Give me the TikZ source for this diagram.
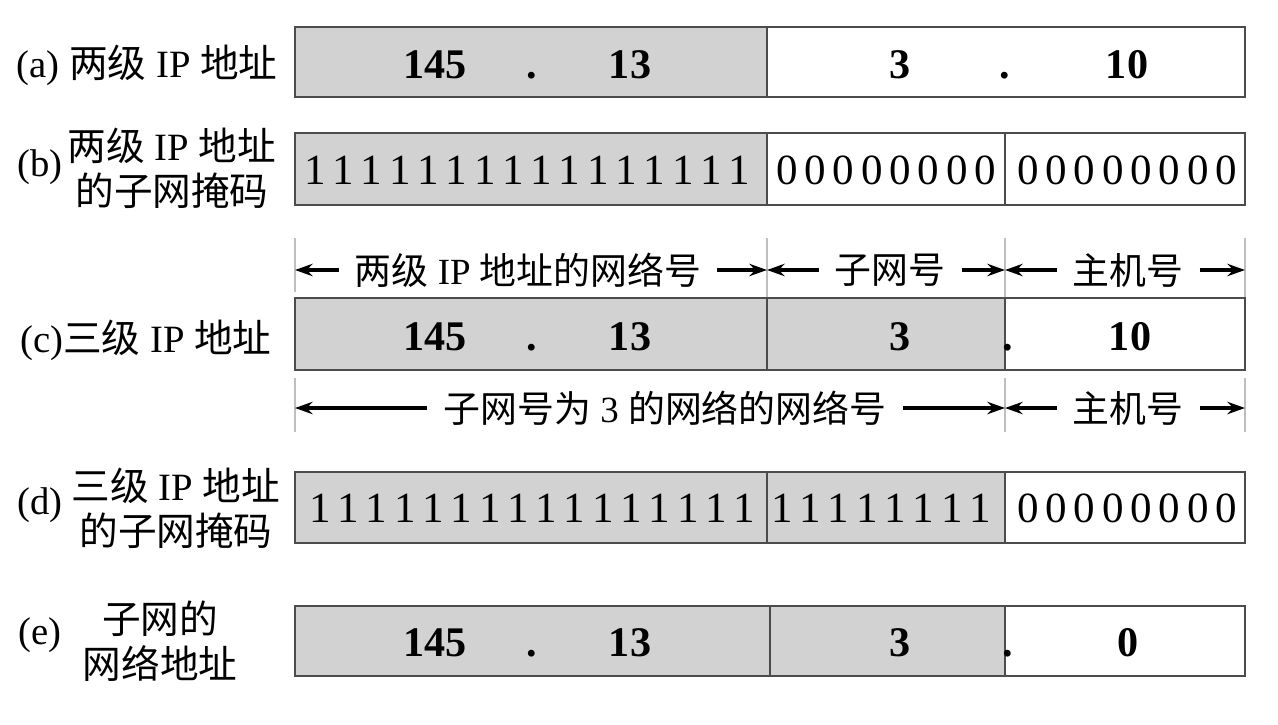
\documentclass[tikz,border=0pt]{standalone}
\usepackage{fontspec}
\setmainfont{Liberation Serif}
\newfontfamily\cjk{Noto Sans CJK SC}
\usetikzlibrary{arrows.meta}
\newcommand{\zh}[1]{{\cjk #1}}

\begin{document}
\begin{tikzpicture}[x=0.02cm, y=-0.02cm,
    field/.style={draw=black!70, line width=0.7pt},
    net/.style={field, fill=gray!35},
    num/.style={font=\fontsize{24}{28}\selectfont\bfseries, anchor=base, inner sep=0pt},
    bit/.style={font=\fontsize{24.5}{28}\selectfont, anchor=base, inner sep=0pt},
    lab/.style={font=\fontsize{22}{25.5}\selectfont, align=center, inner sep=0pt},
    dim/.style={-{Stealth[length=10pt,width=7pt]}, line width=2.2pt},
    dimtext/.style={font=\fontsize{21}{25}\selectfont, inner xsep=9pt},
    guide/.style={draw=black!25, line width=0.6pt}]
\useasboundingbox (0,0) rectangle (1278,724);

% (a) two-level address
\node[lab, anchor=east] (labA) at (278,65) {(a) \zh{两级} IP \zh{地址}};
\draw[net] (295,27) rectangle (767,97);
\draw[field] (767,27) rectangle (1245,97);
\node[num] (a1) at (435,78) {145};
\node[num] (a2) at (532,78) {.};
\node[num] (a3) at (630,78) {13};
\node[num] (a4) at (900,78) {3};
\node[num] (a5) at (1005,78) {.};
\node[num] (a6) at (1127,78) {10};

% (b) its mask
\node[lab] (tagB) at (40,167) {(b)};
\node[lab] (labB) at (172,168) {\zh{两级} IP \zh{地址}\\\zh{的子网掩码}};
\draw[net] (295,133) rectangle (767,205);
\draw[field] (767,133) rectangle (1005,205);
\draw[field] (1005,133) rectangle (1245,205);
\foreach \i in {0,...,15}
  \node[bit] (b1-\i) at ({315+28.3*\i},184) {1};
\foreach \i in {0,...,7} {
  \node[bit] (b2-\i) at ({787+28.3*\i},184) {0};
  \node[bit] (b3-\i) at ({1028+28.3*\i},184) {0};
}

% guide lines
\draw[guide] (295,238) -- (295,292);
\draw[guide] (767,238) -- (767,298);
\draw[guide] (1005,238) -- (1005,298);
\draw[guide] (1245,238) -- (1245,298);
\draw[guide] (295,378) -- (295,432);
\draw[guide] (1005,378) -- (1005,432);
\draw[guide] (1245,378) -- (1245,432);

% upper dimension row
\coordinate (g0a) at (295,270);
\coordinate (g1a) at (767,270);
\coordinate (g2a) at (1005,270);
\coordinate (g3a) at (1245,270);
\node[dimtext] (netTwo) at (528,270) {\zh{两级} IP \zh{地址的网络号}};
\node[dimtext] (subNo) at (890,270) {\zh{子网号}};
\node[dimtext] (hostA) at (1128,270) {\zh{主机号}};
\draw[dim] (netTwo.west) -- (g0a);
\draw[dim] (netTwo.east) -- (g1a);
\draw[dim] (subNo.west) -- (g1a);
\draw[dim] (subNo.east) -- (g2a);
\draw[dim] (hostA.west) -- (g2a);
\draw[dim] (hostA.east) -- (g3a);

% (c) three-level address
\node[lab, anchor=east] (labC) at (272,340) {(c)\zh{三级} IP \zh{地址}};
\draw[net] (295,298) rectangle (767,370);
\draw[net] (767,298) rectangle (1005,370);
\draw[field] (1005,298) rectangle (1245,370);
\node[num] (c1) at (435,350) {145};
\node[num] (c2) at (532,350) {.};
\node[num] (c3) at (630,350) {13};
\node[num] (c4) at (900,350) {3};
\node[num] (c5) at (1008,350) {.};
\node[num] (c6) at (1130,350) {10};

% lower dimension row
\coordinate (g0b) at (295,408);
\coordinate (g2b) at (1005,408);
\coordinate (g3b) at (1245,408);
\node[dimtext] (netThree) at (665,408) {\zh{子网号为} 3 \zh{的网络的网络号}};
\node[dimtext] (hostB) at (1128,408) {\zh{主机号}};
\draw[dim] (netThree.west) -- (g0b);
\draw[dim] (netThree.east) -- (g2b);
\draw[dim] (hostB.west) -- (g2b);
\draw[dim] (hostB.east) -- (g3b);

% (d) three-level mask
\node[lab] (tagD) at (40,505) {(d)};
\node[lab] (labD) at (176,508) {\zh{三级} IP \zh{地址}\\\zh{的子网掩码}};
\draw[net] (295,472) rectangle (767,543);
\draw[net] (767,472) rectangle (1005,543);
\draw[field] (1005,472) rectangle (1245,543);
\foreach \i in {0,...,15}
  \node[bit] (d1-\i) at ({320+28.3*\i},522) {1};
\foreach \i in {0,...,7} {
  \node[bit] (d2-\i) at ({782+28.3*\i},522) {1};
  \node[bit] (d3-\i) at ({1028+28.3*\i},522) {0};
}

% (e) subnet address
\node[lab] (tagE) at (40,635) {(e)};
\node[lab] (labE) at (160,641) {\zh{子网的}\\\zh{网络地址}};
\draw[net] (295,606) rectangle (770,676);
\draw[net] (770,606) rectangle (1005,676);
\draw[field] (1005,606) rectangle (1245,676);
\node[num] (e1) at (435,656) {145};
\node[num] (e2) at (532,656) {.};
\node[num] (e3) at (630,656) {13};
\node[num] (e4) at (900,656) {3};
\node[num] (e5) at (1008,656) {.};
\node[num] (e6) at (1128,656) {0};
\end{tikzpicture}
\end{document}
